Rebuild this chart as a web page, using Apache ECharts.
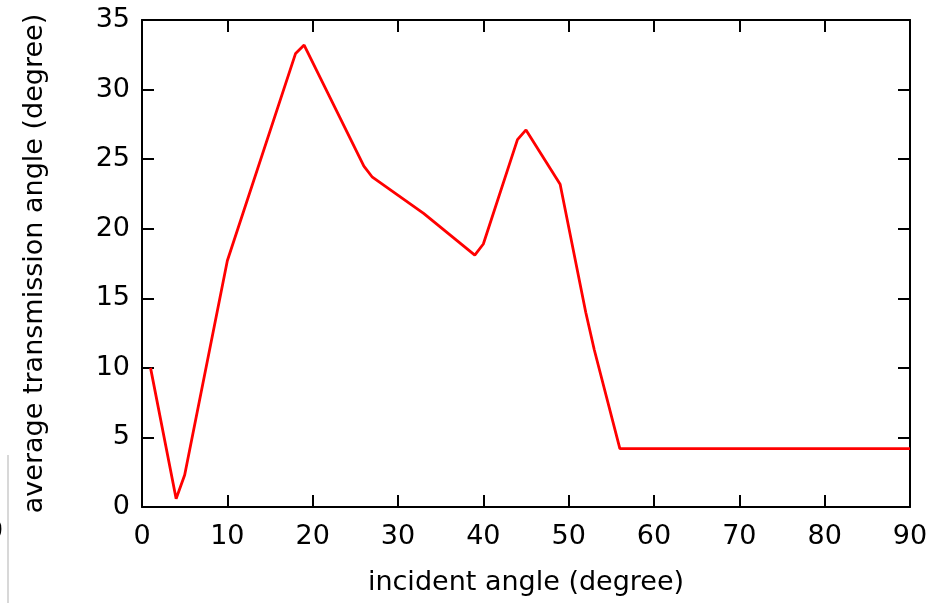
<!DOCTYPE html>
<html>
<head>
<meta charset="utf-8">
<script src="https://cdn.jsdelivr.net/npm/echarts@6/dist/echarts.min.js"></script>
<style>
  html, body { margin: 0; padding: 0; background: #fff; }
  #chart { width: 950px; height: 603px; }
</style>
</head>
<body>
<div id="chart"></div>
<script>
// incident angle (degree) and average transmission angle (degree)
const incidentAngle = [1, 4, 5, 10, 18, 19, 26, 27, 33, 39, 40, 44, 45, 49, 52, 53, 56, 90];
const transmissionAngle = [10, 0.6, 2.3, 17.7, 32.6, 33.2, 24.5, 23.7, 21.1, 18.1, 18.9, 26.4, 27.1, 23.2, 14.0, 11.3, 4.2, 4.2];

const chart = echarts.init(document.getElementById('chart'));

const font = 'DejaVu Sans';
const axisBase = {
  type: 'value',
  axisLine: { show: true, onZero: false, lineStyle: { color: '#000', width: 2 } },
  axisTick: { show: true, inside: true, length: 12, lineStyle: { color: '#000', width: 2 } },
  splitLine: { show: false }
};

const option = {
  animation: false,
  backgroundColor: '#fff',
  grid: { left: 142, right: 40, top: 20, bottom: 96 },
  xAxis: [
    Object.assign({}, axisBase, {
      min: 0, max: 90, interval: 10,
      position: 'bottom',
      name: 'incident angle (degree)',
      nameLocation: 'middle',
      nameGap: 62,
      nameTextStyle: { fontFamily: font, fontSize: 27, color: '#000' },
      axisLabel: { fontFamily: font, fontSize: 27, color: '#000', margin: 16 }
    }),
    Object.assign({}, axisBase, {
      min: 0, max: 90, interval: 10,
      position: 'top',
      axisLabel: { show: false }
    })
  ],
  yAxis: [
    Object.assign({}, axisBase, {
      min: 0, max: 35, interval: 5,
      position: 'left',
      name: 'average transmission angle (degree)',
      nameLocation: 'middle',
      nameGap: 94,
      nameTextStyle: { fontFamily: font, fontSize: 27, color: '#000' },
      axisLabel: { fontFamily: font, fontSize: 27, color: '#000', margin: 12 }
    }),
    Object.assign({}, axisBase, {
      min: 0, max: 35, interval: 5,
      position: 'right',
      axisLabel: { show: false }
    })
  ],
  graphic: [
    { type: 'line', shape: { x1: 8, y1: 455, x2: 8, y2: 603 }, style: { stroke: '#d8d8d8', lineWidth: 2 } },
    { type: 'text', left: -14, top: 518, style: { text: '0', font: '27px DejaVu Sans', fill: '#000' } }
  ],
  series: [
    {
      type: 'line',
      data: incidentAngle.map((x, i) => [x, transmissionAngle[i]]),
      showSymbol: false,
      lineStyle: { color: '#ff0000', width: 2.8 },
      itemStyle: { color: '#ff0000' }
    }
  ]
};

chart.setOption(option);
</script>
</body>
</html>
